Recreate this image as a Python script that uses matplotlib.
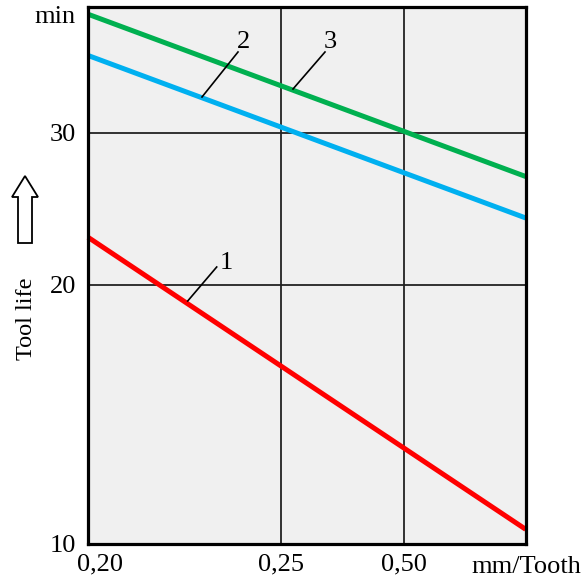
import matplotlib
matplotlib.use("Agg")
import matplotlib.pyplot as plt
import matplotlib.transforms as mtransforms
from matplotlib.patches import Polygon
from matplotlib.ticker import NullLocator, FixedLocator

plt.rcParams['font.family'] = ['Liberation Serif', 'DejaVu Serif']

# ---- data ----
x_tick_labels = ["0,20", "0,25", "0,50"]
x_tick_pos = [0.0, 0.4416, 0.7227]     # positions of the printed feed values on the axis
x_range = [0.0, 1.0]
y_ticks = [10, 20, 30]
y_tick_labels = ["10", "20", "30"]
series_names = ["1", "2", "3"]
tool_life_1 = [22.7, 10.4]   # red
tool_life_2 = [36.9, 23.9]   # blue
tool_life_3 = [41.2, 26.7]   # green
colors = ["#ff0000", "#00b0f0", "#00b050"]

FS = 19
W, H = 582, 581
fig = plt.figure(figsize=(W / 100, H / 100), dpi=100)
ax = fig.add_axes([88 / W, (H - 544) / H, (525.7 - 88) / W, (544 - 7) / H])
ax.set_facecolor("#f0f0f0")
ax.set_yscale("log")
ax.set_xlim(0, 1)
ax.set_ylim(10, 42)

for v in x_tick_pos[1:]:
    ax.axvline(v, color="#222222", lw=1.3, zorder=1)
for v in y_ticks[1:]:
    ax.axhline(v, color="#222222", lw=1.3, zorder=1)

for ys, c in zip([tool_life_1, tool_life_2, tool_life_3], colors):
    ax.plot(x_range, ys, color=c, lw=3.6, solid_capstyle="butt", zorder=3, clip_on=False)

ax.yaxis.set_major_locator(FixedLocator(y_ticks))
ax.yaxis.set_minor_locator(NullLocator())
ax.set_yticklabels(y_tick_labels)
ax.set_xticks(x_tick_pos)
ax.set_xticklabels(x_tick_labels)
ax.tick_params(axis="both", length=0, labelsize=FS)
ax.tick_params(axis="y", pad=8.5)
ax.tick_params(axis="x", pad=7)
# shift the first x label a bit right as in the reference
lbl0 = ax.get_xticklabels()[0]
lbl0.set_transform(lbl0.get_transform() + mtransforms.ScaledTranslation(12 / 100, 0, fig.dpi_scale_trans))

for s in ax.spines.values():
    s.set_linewidth(2.3)
    s.set_color("black")
    s.set_zorder(5)

def px(x, y):
    return (x / W, 1 - y / H)

# 'min' unit label and x unit label
fig.text(*px(76, 17), "min", ha="right", va="center", fontsize=FS)
fig.text(*px(581, 567), "mm/Tooth", ha="right", va="center", fontsize=FS)

# y axis title
fig.text(*px(26, 319), "Tool life", rotation=90, ha="center", va="center", fontsize=17.5)

# hollow up arrow
arrow_pts = [(18, 243), (32, 243), (32, 197), (38, 197), (25, 176), (12, 197), (18, 197)]
fig.patches.append(Polygon([px(*p) for p in arrow_pts], closed=True, fc="white", ec="black",
                           lw=1.3, transform=fig.transFigure))

# curve labels with leader lines
labels = [("1", (226, 263), (216.7, 267), (187.7, 301)),
          ("2", (244, 42), (238, 52), (202, 97)),
          ("3", (330, 42), (325, 52), (293, 89))]
for name, tpos, p0, p1 in labels:
    fig.text(*px(*tpos), name, ha="center", va="center", fontsize=FS)
    fig.add_artist(plt.Line2D([p0[0] / W, p1[0] / W], [1 - p0[1] / H, 1 - p1[1] / H],
                              color="black", lw=1.2, transform=fig.transFigure))

fig.savefig("out.png", dpi=100)
